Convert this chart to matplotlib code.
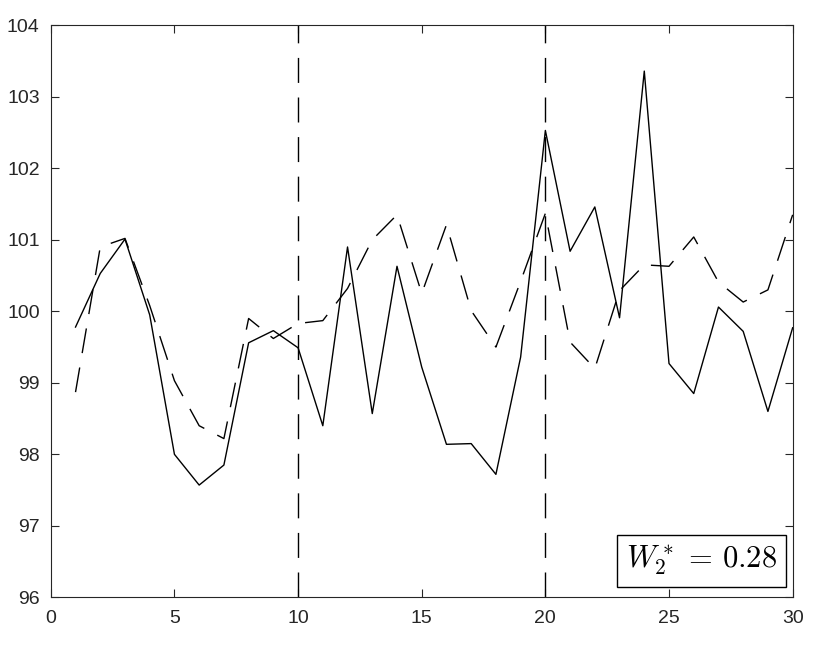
import numpy as np
import matplotlib
matplotlib.use('Agg')
import matplotlib.pyplot as plt

# data
x = np.arange(1, 31)
solid = [99.78, 100.53, 101.01, 99.95, 98.00, 97.57, 97.85, 99.56, 99.73, 99.49,
         98.40, 100.90, 98.57, 100.63, 99.22, 98.14, 98.15, 97.72, 99.36, 102.53,
         100.84, 101.46, 99.91, 103.36, 99.27, 98.85, 100.06, 99.72, 98.60, 99.77]
dashed = [98.87, 100.90, 101.02, 100.08, 99.03, 98.40, 98.22, 99.90, 99.62, 99.83,
          99.87, 100.32, 101.00, 101.35, 100.25, 101.21, 100.01, 99.50, 100.42, 101.37,
          99.57, 99.20, 100.29, 100.65, 100.63, 101.04, 100.41, 100.13, 100.30, 101.35]
vlines = [10, 20]
xticks = [0, 5, 10, 15, 20, 25, 30]
yticks = [96, 97, 98, 99, 100, 101, 102, 103, 104]
label = r'$W_2^* \,=\, 0.28$'

plt.rcParams['font.family'] = ['Liberation Sans', 'DejaVu Sans']
plt.rcParams['mathtext.fontset'] = 'cm'
plt.rcParams['lines.scale_dashes'] = False

axcol = (0.15, 0.15, 0.15)
dash = (18, 10.5)
fig = plt.figure(figsize=(8.3, 6.48), dpi=100)
ax = fig.add_axes([0.0612, 0.0782, 0.8938, 0.8827])

ax.plot(x, solid, color='k', lw=1.0)
ax.plot(x, dashed, color='k', lw=1.0, dashes=dash)
for v in vlines:
    ax.axvline(v, color='k', lw=1.0, dashes=dash)

ax.set_xlim(0, 30)
ax.set_ylim(96, 104)
ax.set_xticks(xticks)
ax.set_yticks(yticks)
ax.tick_params(direction='in', length=6, width=0.8, colors=axcol, labelsize=14,
               top=True, right=True, labeltop=False, labelright=False)
ax.tick_params(axis='x', pad=9)
ax.tick_params(axis='y', pad=8)
for s in ax.spines.values():
    s.set_color(axcol)
    s.set_linewidth(0.8)

ax.text(0.979, 0.034, label, transform=ax.transAxes, ha='right', va='bottom',
        fontsize=22, color='k',
        bbox=dict(boxstyle='square,pad=0.3', fc='white', ec='k', lw=1.0))

fig.savefig('out.png', dpi=100)
